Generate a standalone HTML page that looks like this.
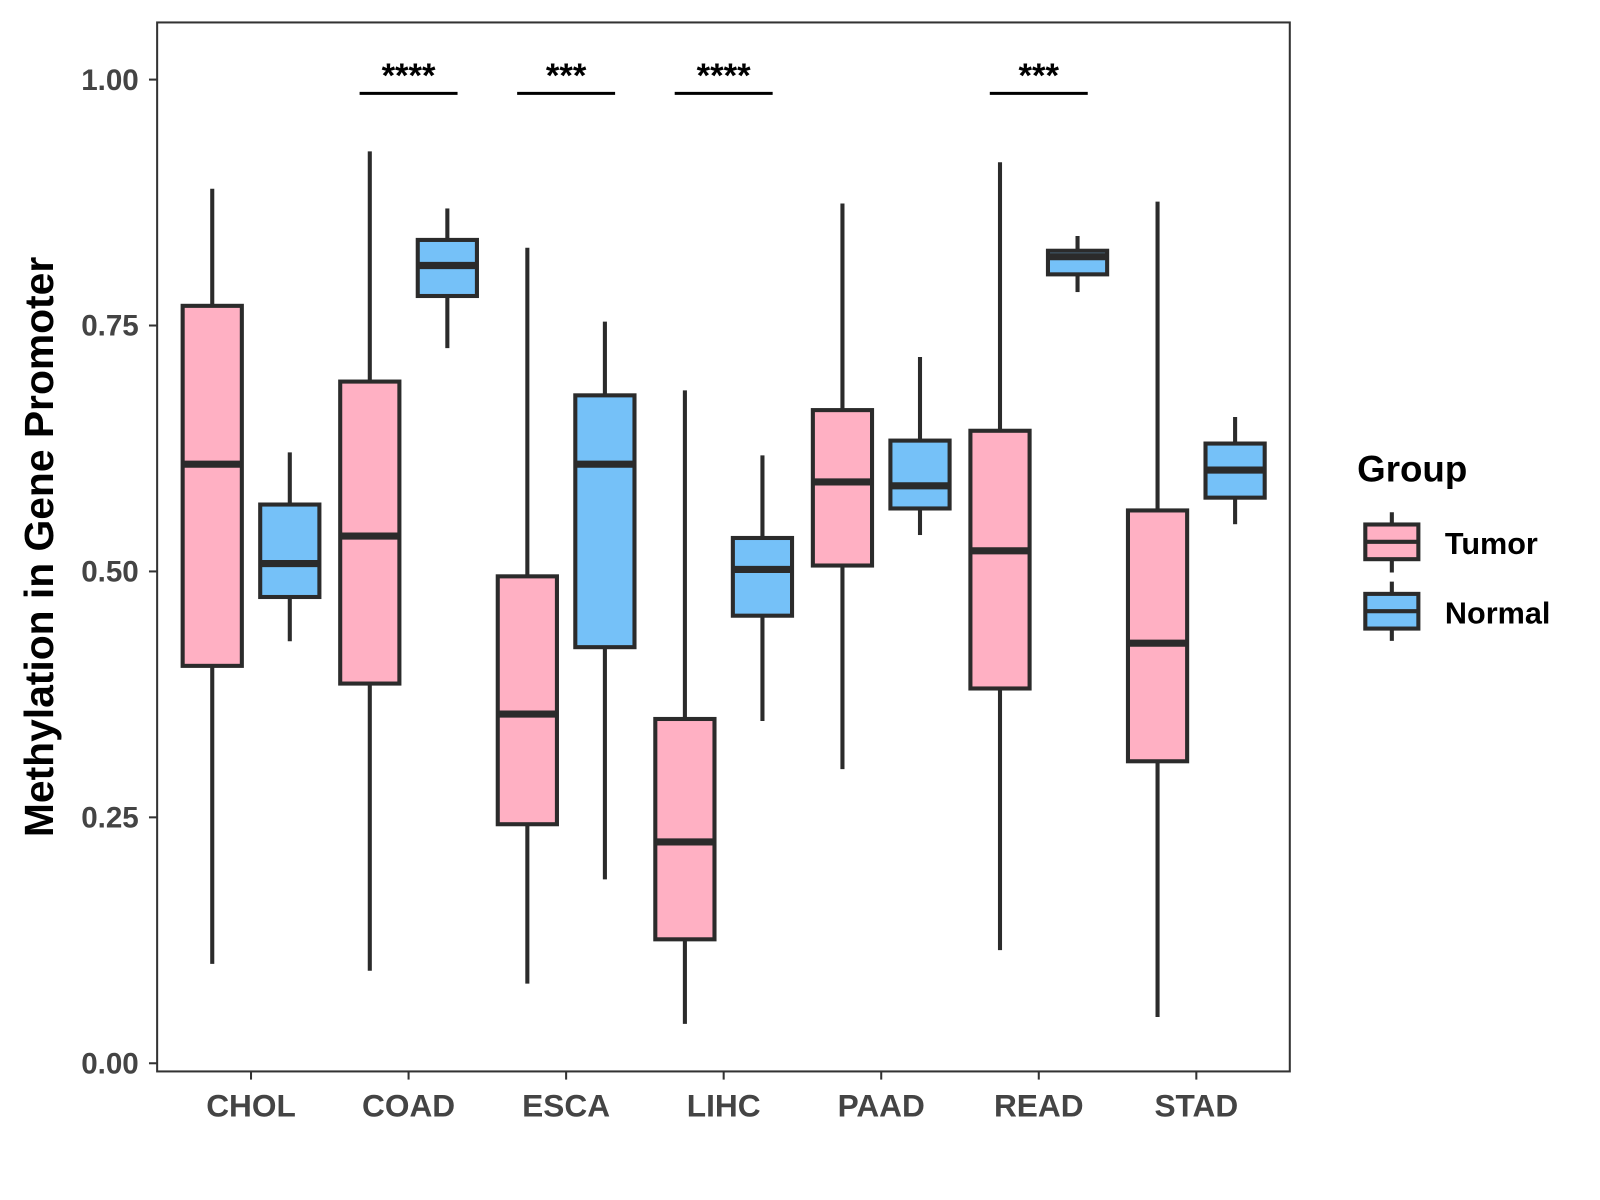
<!DOCTYPE html>
<html><head><meta charset="utf-8"><style>
html,body{margin:0;padding:0;background:#fff;}
svg{display:block;font-family:"Liberation Sans",Arial,sans-serif;}
</style></head><body>
<svg id="chart" width="1600" height="1200" viewBox="0 0 1568 1176">
<rect x="154" y="22" width="1110" height="1028" fill="#fff" stroke="#333" stroke-width="2"/>
<g id="boxes"></g>
<g id="yaxis"></g>
<g id="xaxis"></g>
<g id="sig"></g>
<text x="52" y="536" transform="rotate(-90 52 536)" text-anchor="middle" font-size="40" font-weight="bold" fill="#000">Methylation in Gene Promoter</text>
<g>
<text x="1330" y="472" font-size="36" font-weight="bold" fill="#000">Group</text>
<g>
<line x1="1364" y1="502" x2="1364" y2="561" stroke="#2b2b2b" stroke-width="4"/>
<rect x="1338" y="514" width="52" height="34" fill="#FFB0C3" stroke="#2b2b2b" stroke-width="4"/>
<line x1="1338" y1="531" x2="1390" y2="531" stroke="#2b2b2b" stroke-width="4"/>
<text x="1416" y="543" font-size="30" font-weight="bold" fill="#000">Tumor</text>
</g>
<g>
<line x1="1364" y1="570" x2="1364" y2="628" stroke="#2b2b2b" stroke-width="4"/>
<rect x="1338" y="582" width="52" height="34" fill="#75C1F8" stroke="#2b2b2b" stroke-width="4"/>
<line x1="1338" y1="599" x2="1390" y2="599" stroke="#2b2b2b" stroke-width="4"/>
<text x="1416" y="611" font-size="30" font-weight="bold" fill="#000">Normal</text>
</g>
</g>
</svg>
<script>
const categories = ["CHOL","COAD","ESCA","LIHC","PAAD","READ","STAD"];
// [lower whisker, q1, median, q3, upper whisker]
const tumorStats = [
 [0.101,0.404,0.609,0.770,0.889],
 [0.094,0.386,0.536,0.693,0.927],
 [0.081,0.243,0.355,0.495,0.829],
 [0.040,0.126,0.225,0.350,0.684],
 [0.299,0.506,0.591,0.664,0.874],
 [0.115,0.381,0.521,0.643,0.916],
 [0.047,0.307,0.427,0.562,0.876]
];
const normalStats = [
 [0.429,0.474,0.508,0.568,0.621],
 [0.727,0.780,0.811,0.837,0.869],
 [0.187,0.423,0.609,0.679,0.754],
 [0.348,0.455,0.502,0.534,0.618],
 [0.537,0.564,0.587,0.633,0.718],
 [0.784,0.802,0.820,0.826,0.841],
 [0.548,0.575,0.603,0.630,0.657]
];
const yTicks = [0, 0.25, 0.5, 0.75, 1.0];
const yTickLabels = ["0.00","0.25","0.50","0.75","1.00"];
const sigCategories = ["COAD","ESCA","LIHC","READ"];
const sigLabels = ["****","***","****","***"];
const sigLevel = 0.986;

const NS="http://www.w3.org/2000/svg";
const y = v => 1042 - v*964;
const xc = i => 246 + i*154.4;
function mk(tag, attrs, parent){const e=document.createElementNS(NS,tag);for(const k in attrs)e.setAttribute(k,attrs[k]);parent.appendChild(e);return e;}
const boxes=document.getElementById('boxes');
function drawBox(cx, s, fill, name){
  const g=mk('g',{},boxes);
  
  
  const w=58, st='#2b2b2b';
  mk('line',{x1:cx,x2:cx,y1:y(s[4]),y2:y(s[3]),stroke:st,'stroke-width':4},g);
  mk('line',{x1:cx,x2:cx,y1:y(s[1]),y2:y(s[0]),stroke:st,'stroke-width':4},g);
  mk('rect',{x:cx-w/2,y:y(s[3]),width:w,height:y(s[1])-y(s[3]),fill:fill,stroke:st,'stroke-width':4},g);
  mk('line',{x1:cx-w/2,x2:cx+w/2,y1:y(s[2]),y2:y(s[2]),stroke:st,'stroke-width':7},g);
}
categories.forEach((c,i)=>{
  drawBox(xc(i)-38, tumorStats[i], '#FFB0C3', 'box-tumor-'+c.toLowerCase());
  drawBox(xc(i)+38, normalStats[i], '#75C1F8', 'box-normal-'+c.toLowerCase());
});
const ya=document.getElementById('yaxis');
yTicks.forEach((t,i)=>{
  const l=mk('line',{x1:146,x2:154,y1:y(t),y2:y(t),stroke:'#333','stroke-width':2},ya);
  
  
  const tx=mk('text',{x:136,y:y(t)+10,'text-anchor':'end','font-size':29,'font-weight':'bold',fill:'#444'},ya);
  tx.textContent=yTickLabels[i];
  
  
});
const xa=document.getElementById('xaxis');
categories.forEach((c,i)=>{
  const l=mk('line',{x1:xc(i),x2:xc(i),y1:1050,y2:1058,stroke:'#333','stroke-width':2},xa);
  
  
  const tx=mk('text',{x:xc(i),y:1094,'text-anchor':'middle','font-size':31,'font-weight':'bold',fill:'#444'},xa);
  tx.textContent=c;
  
  
});
const sg=document.getElementById('sig');
sigCategories.forEach((c,k)=>{
  const i=categories.indexOf(c);
  const l=mk('line',{x1:xc(i)-48,x2:xc(i)+48,y1:y(sigLevel),y2:y(sigLevel),stroke:'#000','stroke-width':3},sg);
  
  
  const tx=mk('text',{x:xc(i),y:y(sigLevel)-6,'text-anchor':'middle','font-size':34,'font-weight':'bold',fill:'#000'},sg);
  tx.textContent=sigLabels[k];
  
  
});
</script>
</body></html>
